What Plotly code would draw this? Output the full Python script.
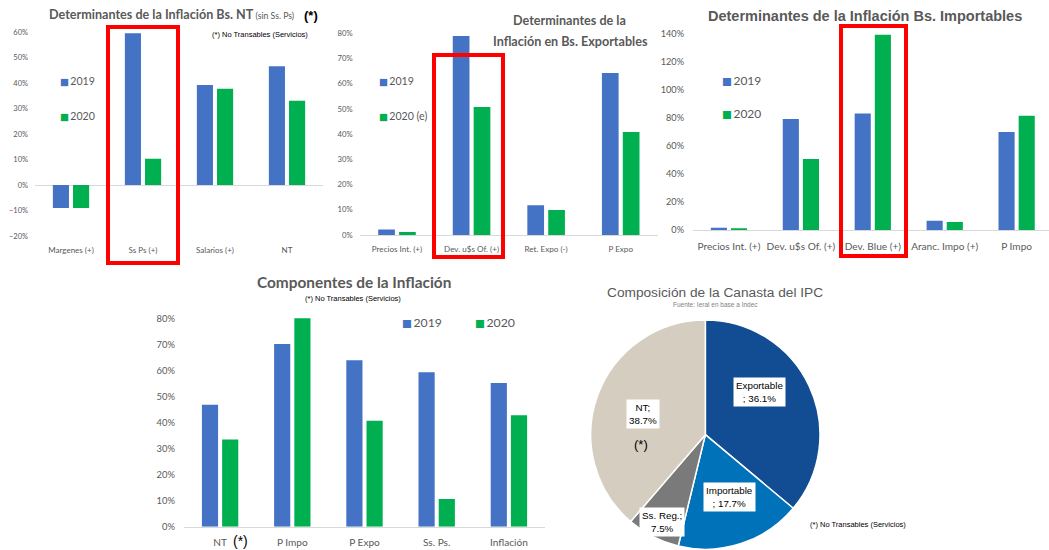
"""Inflation determinants dashboard: four grouped bar panels and a CPI basket pie."""
import plotly.graph_objects as go

W, H = 1049, 550

BLUE = "#4472C4"
GREEN = "#00B050"
GREY = "#595959"
AXIS_LINE = "#D9D9D9"
RED = "#FF0000"
CAL = "Lato, sans-serif"  # stand-in for Calibri
ARIAL = "Liberation Sans, Arial, sans-serif"

# ---- data -----------------------------------------------------------------
YEARS = ["2019", "2020"]

NT_CATS = ["Margenes (+)", "Ss Ps (+)", "Salarios (+)", "NT"]
NT_2019 = [-9.0, 59.6, 39.3, 46.7]
NT_2020 = [-9.0, 10.3, 37.8, 33.1]

EXPO_CATS = ["Precios Int. (+)", "Dev. u$s Of. (+)", "Ret. Expo (-)", "P Expo"]
EXPO_2019 = [2.2, 78.9, 11.8, 64.3]
EXPO_2020 = [1.2, 50.8, 9.9, 40.9]
EXPO_YEARS = ["2019", "2020 (e)"]

IMPO_CATS = ["Precios Int. (+)", "Dev. u$s Of. (+)", "Dev. Blue (+)", "Aranc. Impo (+)", "P Impo"]
IMPO_2019 = [1.6, 79.0, 83.0, 6.6, 69.8]
IMPO_2020 = [1.0, 50.5, 139.0, 5.7, 81.4]

COMP_CATS = ["NT", "P Impo", "P Expo", "Ss. Ps.", "Inflación"]
COMP_2019 = [46.8, 70.1, 63.9, 59.3, 55.2]
COMP_2020 = [33.5, 80.2, 40.7, 10.6, 42.8]

IPC_LABELS = ["Exportable", "Importable", "Ss. Reg.", "NT"]
IPC_SHARES = [36.1, 17.7, 7.5, 38.7]
IPC_COLORS = ["#124C93", "#0072BA", "#7A7A7A", "#D5CDBF"]


def px_x(x):
    return x / W


def px_y(y):
    return 1 - y / H


def ann(text, x, y, size, color=GREY, family=CAL, xanchor="center", **kw):
    return dict(
        text=text, x=px_x(x), y=px_y(y), xref="paper", yref="paper",
        xanchor=xanchor, yanchor="middle", showarrow=False,
        font=dict(size=size, color=color, family=family), **kw,
    )


def legend_item(name, color, x, y, size, sq):
    text = (f"<span style='color:{color};font-size:{sq}px;font-family:DejaVu Sans'>■</span>"
            f"\u2009{name}")
    return ann(text, x, y, size, color=GREY, xanchor="left")


fig = go.Figure()

panels = [
    ("", NT_CATS, NT_2019, NT_2020, YEARS),
    ("2", EXPO_CATS, EXPO_2019, EXPO_2020, EXPO_YEARS),
    ("3", IMPO_CATS, IMPO_2019, IMPO_2020, YEARS),
    ("4", COMP_CATS, COMP_2019, COMP_2020, YEARS),
]
for sfx, cats, v19, v20, names in panels:
    for vals, color, name in ((v19, BLUE, names[0]), (v20, GREEN, names[1])):
        fig.add_trace(go.Bar(
            x=cats, y=vals, name=name, marker_color=color,
            xaxis="x" + sfx, yaxis="y" + sfx, showlegend=False, cliponaxis=False,
            hovertemplate="%{x}: %{y:.1f}%<extra>" + name + "</extra>",
        ))

fig.add_trace(go.Pie(
    labels=IPC_LABELS, values=IPC_SHARES, sort=False, direction="clockwise", rotation=0,
    marker=dict(colors=IPC_COLORS, line=dict(color="white", width=1.5)),
    textinfo="none", showlegend=False,
    domain=dict(x=[px_x(590.7), px_x(820)], y=[0, px_y(319.3)]),
    hovertemplate="%{label}: %{value}%<extra></extra>",
))


def x_axis(x0, x1, y_anchor, size, line, standoff, rng=None):
    ax = dict(
        domain=[px_x(x0), px_x(x1)], anchor=y_anchor, type="category",
        showgrid=False, zeroline=False, ticks="", showline=line, linecolor=AXIS_LINE,
        tickfont=dict(family=CAL, size=size, color=GREY), ticklabelstandoff=standoff,
        tickangle=0, automargin=False, fixedrange=True,
    )
    if rng:
        ax["range"] = rng
    return ax


def y_axis(top, bottom, x_anchor, rng, dtick, size, zero, standoff):
    return dict(
        domain=[px_y(bottom), px_y(top)], anchor=x_anchor, range=rng, dtick=dtick,
        ticksuffix="%", showgrid=False, zeroline=zero, zerolinecolor=AXIS_LINE,
        zerolinewidth=1, showline=False, ticks="",
        tickfont=dict(family=CAL, size=size, color=GREY), ticklabelstandoff=standoff,
        automargin=False, fixedrange=True,
    )


annotations = [
    # panel 1
    ann("<b>Determinantes de la Inflación Bs. NT</b>"
        "<span style='font-size:8.7px'> (sin Ss. Ps)</span>", 171, 15, 12.6),
    ann("<b>(*)</b>", 310.5, 16, 13, color="black", family=ARIAL),
    ann("(*) No Transables (Servicios)", 259.5, 35, 7.5, color="black", family=ARIAL),
    legend_item(YEARS[0], BLUE, 58, 81, 10.6, 9.5),
    legend_item(YEARS[1], GREEN, 58, 116, 10.6, 9.5),
    # panel 2
    ann("<b>Determinantes de la</b>", 569, 20.5, 12.6),
    ann("<b>Inflación en Bs. Exportables</b>", 570, 41.5, 12.6),
    legend_item(EXPO_YEARS[0], BLUE, 377, 81, 10.6, 9.5),
    legend_item(EXPO_YEARS[1], GREEN, 377, 116, 10.6, 9.5),
    # panel 3
    ann("<b>Determinantes de la Inflación Bs. Importables</b>", 865, 16, 14.5, family=ARIAL),
    legend_item(YEARS[0], BLUE, 720, 80, 12, 10.5),
    legend_item(YEARS[1], GREEN, 720, 113.5, 12, 10.5),
    # panel 4
    ann("<b>Componentes de la Inflación</b>", 354, 282, 15.4),
    ann("(*) No Transables (Servicios)", 353, 299, 7.5, color="black", family=ARIAL),
    legend_item(YEARS[0], BLUE, 400, 322, 12.3, 10.5),
    legend_item(YEARS[1], GREEN, 473, 322, 12.3, 10.5),
    ann("(*)", 240.5, 541, 14, color="black", family=ARIAL),
    # pie
    ann("Composición de la Canasta del IPC", 715, 292.5, 13.7, family=ARIAL),
    ann("Fuente: Ieral en base a Indec", 715, 304, 6.5, color="#7F7F7F", family=ARIAL),
    ann("(*) No Transables (Servicios)", 858, 524, 7.5, color="black", family=ARIAL),
    ann("(*)", 641, 444, 13, color="black", family=ARIAL),
]

pie_label_pos = [(759.6, 391.5), (729.6, 497), (661.5, 521.5), (643, 413.5)]
for lab, share, (lx, ly) in zip(IPC_LABELS, IPC_SHARES, pie_label_pos):
    txt = f"{lab}<br>; {share:.1f}%" if len(lab) > 8 else f"{lab};<br>{share:.1f}%"
    annotations.append(ann(txt, lx, ly, 9.8, color="black", family=ARIAL,
                           bgcolor="white", borderpad=2))

red_boxes = [(108, 27, 178, 263), (434, 55, 503, 257), (841, 26, 906, 256)]
shapes = [
    dict(type="rect", xref="paper", yref="paper",
         x0=px_x(x0), x1=px_x(x1), y0=px_y(y1), y1=px_y(y0),
         line=dict(color=RED, width=4), fillcolor="rgba(0,0,0,0)")
    for x0, y0, x1, y1 in red_boxes
]

fig.update_layout(
    template="none",
    width=W, height=H, autosize=False,
    margin=dict(l=0, r=0, t=0, b=0),
    paper_bgcolor="white", plot_bgcolor="rgba(0,0,0,0)",
    barmode="group", bargap=0.44, bargroupgap=0.2,
    xaxis=x_axis(35, 323, "y", 8.0, False, 8),
    yaxis=y_axis(32.3, 236, "x", [-20, 60], 10, 7.5, True, 6),
    xaxis2=x_axis(359.7, 658, "y2", 8.1, True, 6),
    yaxis2=y_axis(33.3, 235, "x2", [0, 80], 10, 7.7, False, 6),
    xaxis3=x_axis(693, 1049, "y3", 10.1, True, 7, rng=[-0.5, 4.45]),
    yaxis3=y_axis(33.3, 230, "x3", [0, 140], 20, 9.2, False, 8),
    xaxis4=x_axis(184, 545, "y4", 10.1, True, 6),
    yaxis4=y_axis(318.3, 526.7, "x4", [0, 80], 10, 9.4, False, 8),
    annotations=annotations,
    shapes=shapes,
)

# the page's default 8px body margin would shift the whole figure
fig.write_html(
    "out.html",
    config={"displayModeBar": False},
    post_script="document.body.style.margin = '0px';",
)
